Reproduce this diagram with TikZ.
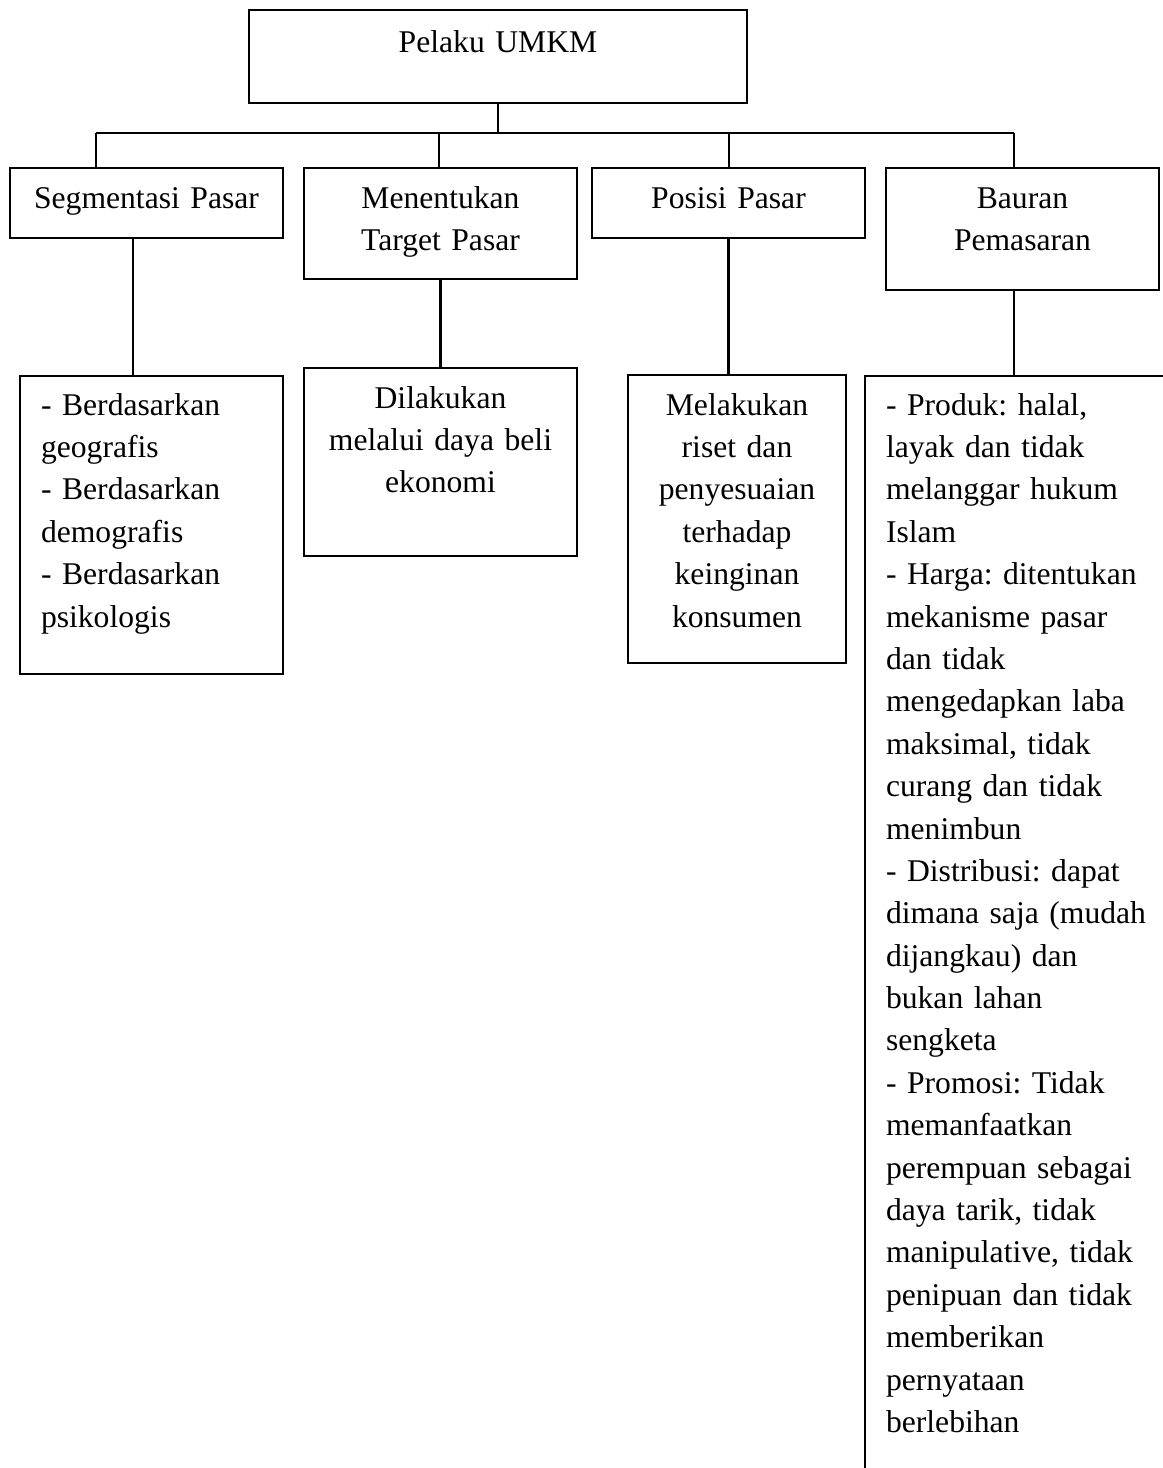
\documentclass[tikz,border=0pt]{standalone}
\usepackage{fontspec}
\setmainfont{Liberation Serif}
\frenchspacing
\usepackage{tikz}
\usetikzlibrary{positioning}
\tikzset{chart/.style={x=0.02cm,y=-0.02cm,line width=1.2pt,font=\fontsize{18}{24.13}\selectfont},
    box/.style={draw,rectangle,inner xsep=0pt,inner ysep=0pt,align=center,text height=0.8cm},
    listbox/.style={draw,rectangle,inner xsep=0.42cm,inner ysep=0pt,align=left,text height=0.78cm}}

\begin{document}
\begin{tikzpicture}[chart]
    \useasboundingbox (0,0) rectangle (1163,1468);
    \clip (0,0) rectangle (1163,1468);

    \node[box,anchor=north,text width=9.96cm,text height=0.84cm,text depth=1.02cm](pelaku) at (498,9){Pelaku UMKM};

    \node[box,anchor=north,text width=5.46cm,text depth=0.6cm](seg) at (146.5,167){Segmentasi Pasar};
    \node[box,anchor=north,text width=5.46cm,text depth=1.42cm](men) at (440.5,167){Menentukan\\Target Pasar};
    \node[box,anchor=north,text width=5.46cm,text depth=0.6cm](pos) at (728.5,167){Posisi Pasar};
    \node[box,anchor=north,text width=5.46cm,text depth=1.64cm](bau) at (1022.5,167){Bauran\\Pemasaran};

    \node[listbox,anchor=north,text width=4.42cm,text depth=5.18cm](segdet) at (151.5,375){- Berdasarkan\\geografis\\- Berdasarkan\\demografis\\- Berdasarkan\\psikologis};
    \node[box,anchor=north,text width=5.46cm,text depth=2.96cm](mendet) at (440.5,367){Dilakukan\\melalui daya beli\\ekonomi};
    \node[box,anchor=north,text width=4.36cm,text depth=4.96cm](posdet) at (737,374){Melakukan\\riset dan\\penyesuaian\\terhadap\\keinginan\\konsumen};
    \node[listbox,anchor=north west,text width=7.16cm,text depth=24cm](baudet) at (864,375){- Produk: halal,\\layak dan tidak\\melanggar hukum\\Islam\\- Harga: ditentukan\\mekanisme pasar\\dan tidak\\mengedapkan laba\\maksimal, tidak\\curang dan tidak\\menimbun\\- Distribusi: dapat\\dimana saja (mudah\\dijangkau) dan\\bukan lahan\\sengketa\\- Promosi: Tidak\\memanfaatkan\\perempuan sebagai\\daya tarik, tidak\\manipulative, tidak\\penipuan dan tidak\\memberikan\\pernyataan\\berlebihan};

    % garis penghubung
    \coordinate (j1) at (96,133);
    \coordinate (j2) at (439,133);
    \coordinate (j3) at (729,133);
    \coordinate (j4) at (1014,133);
    \draw (pelaku.south) -- (pelaku.south |- j1);
    \draw (j1) -- (j4);
    \foreach \j/\n in {j1/seg,j2/men,j3/pos,j4/bau}
        \draw (\j) -- (\j |- \n.north);

    \coordinate (k1) at ([xshift=-0.27cm]seg.south);
    \coordinate (k4) at ([xshift=-0.17cm]bau.south);
    \draw (k1) -- (k1 |- segdet.north);
    \draw (men.south) -- (mendet.north);
    \draw (pos.south) -- (pos.south |- posdet.north);
    \draw (k4) -- (k4 |- baudet.north);
\end{tikzpicture}
\end{document}
